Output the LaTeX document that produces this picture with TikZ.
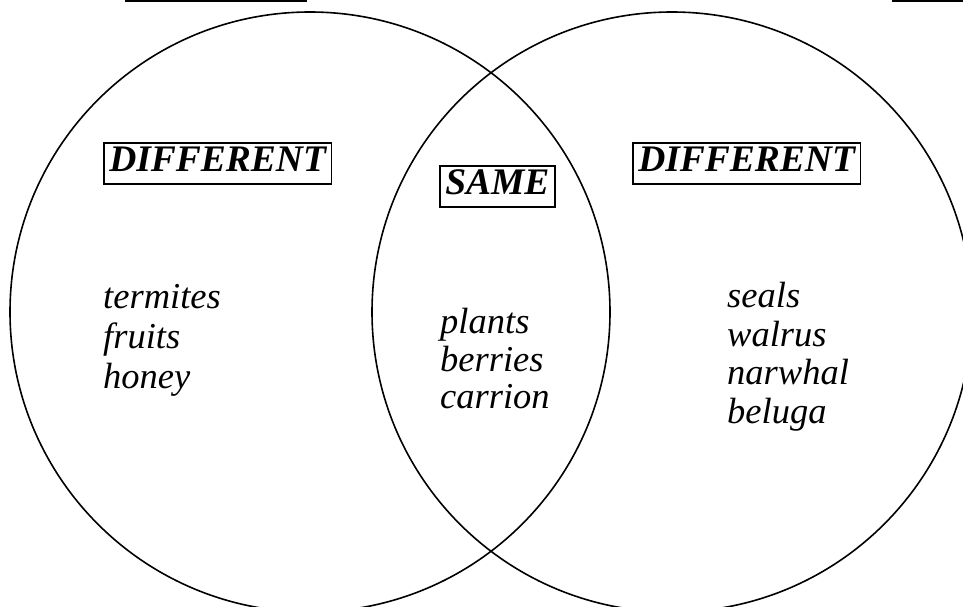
\documentclass[tikz,border=0pt]{standalone}
\usepackage{fontspec}
\setmainfont{Liberation Serif}
\begin{document}
\begin{tikzpicture}[x=1pt,y=-1pt,
  item/.style={anchor=base west, inner sep=0pt, font=\fontsize{36.5}{40}\selectfont\itshape},
  hdr/.style={draw, line width=1.5pt, anchor=base west, inner xsep=5.5pt, inner ysep=0pt,
    text height=28.5pt, text depth=12.5pt, font=\fontsize{37.5}{40}\selectfont\bfseries\itshape},
  ring/.style={draw, line width=1.6pt},
  rule/.style={line width=2.5pt}]
\useasboundingbox[fill=white] (0,0) rectangle (963,607);
\clip (0,0) rectangle (963,607);
% circles
\draw[ring] (310,312) circle[radius=300];
\draw[ring] (672,312) circle[radius=300];
% top rules
\coordinate (r1a) at (125,1);
\coordinate (r1b) at (307,1);
\coordinate (r2a) at (892,1);
\coordinate (r2b) at (963,1);
\draw[rule] (r1a) -- (r1b);
\draw[rule] (r2a) -- (r2b);
% headers
\node[hdr] (dl) at (103,171.7) {DIFFERENT};
\node[hdr] (sm) at (439,194.7) {SAME};
\node[hdr] (dr) at (632,171.7) {DIFFERENT};
% left items
\node[item] (l1) at (103,308) {termites};
\node[item] (l2) at (103,348) {fruits};
\node[item] (l3) at (103,388) {honey};
% middle items
\node[item] (m1) at (440,333) {plants};
\node[item] (m2) at (440,371) {berries};
\node[item] (m3) at (440,408) {carrion};
% right items
\node[item] (r1) at (727,307) {seals};
\node[item] (r2) at (727,346) {walrus};
\node[item] (r3) at (727,384) {narwhal};
\node[item] (r4) at (727,423) {beluga};
\end{tikzpicture}
\end{document}
